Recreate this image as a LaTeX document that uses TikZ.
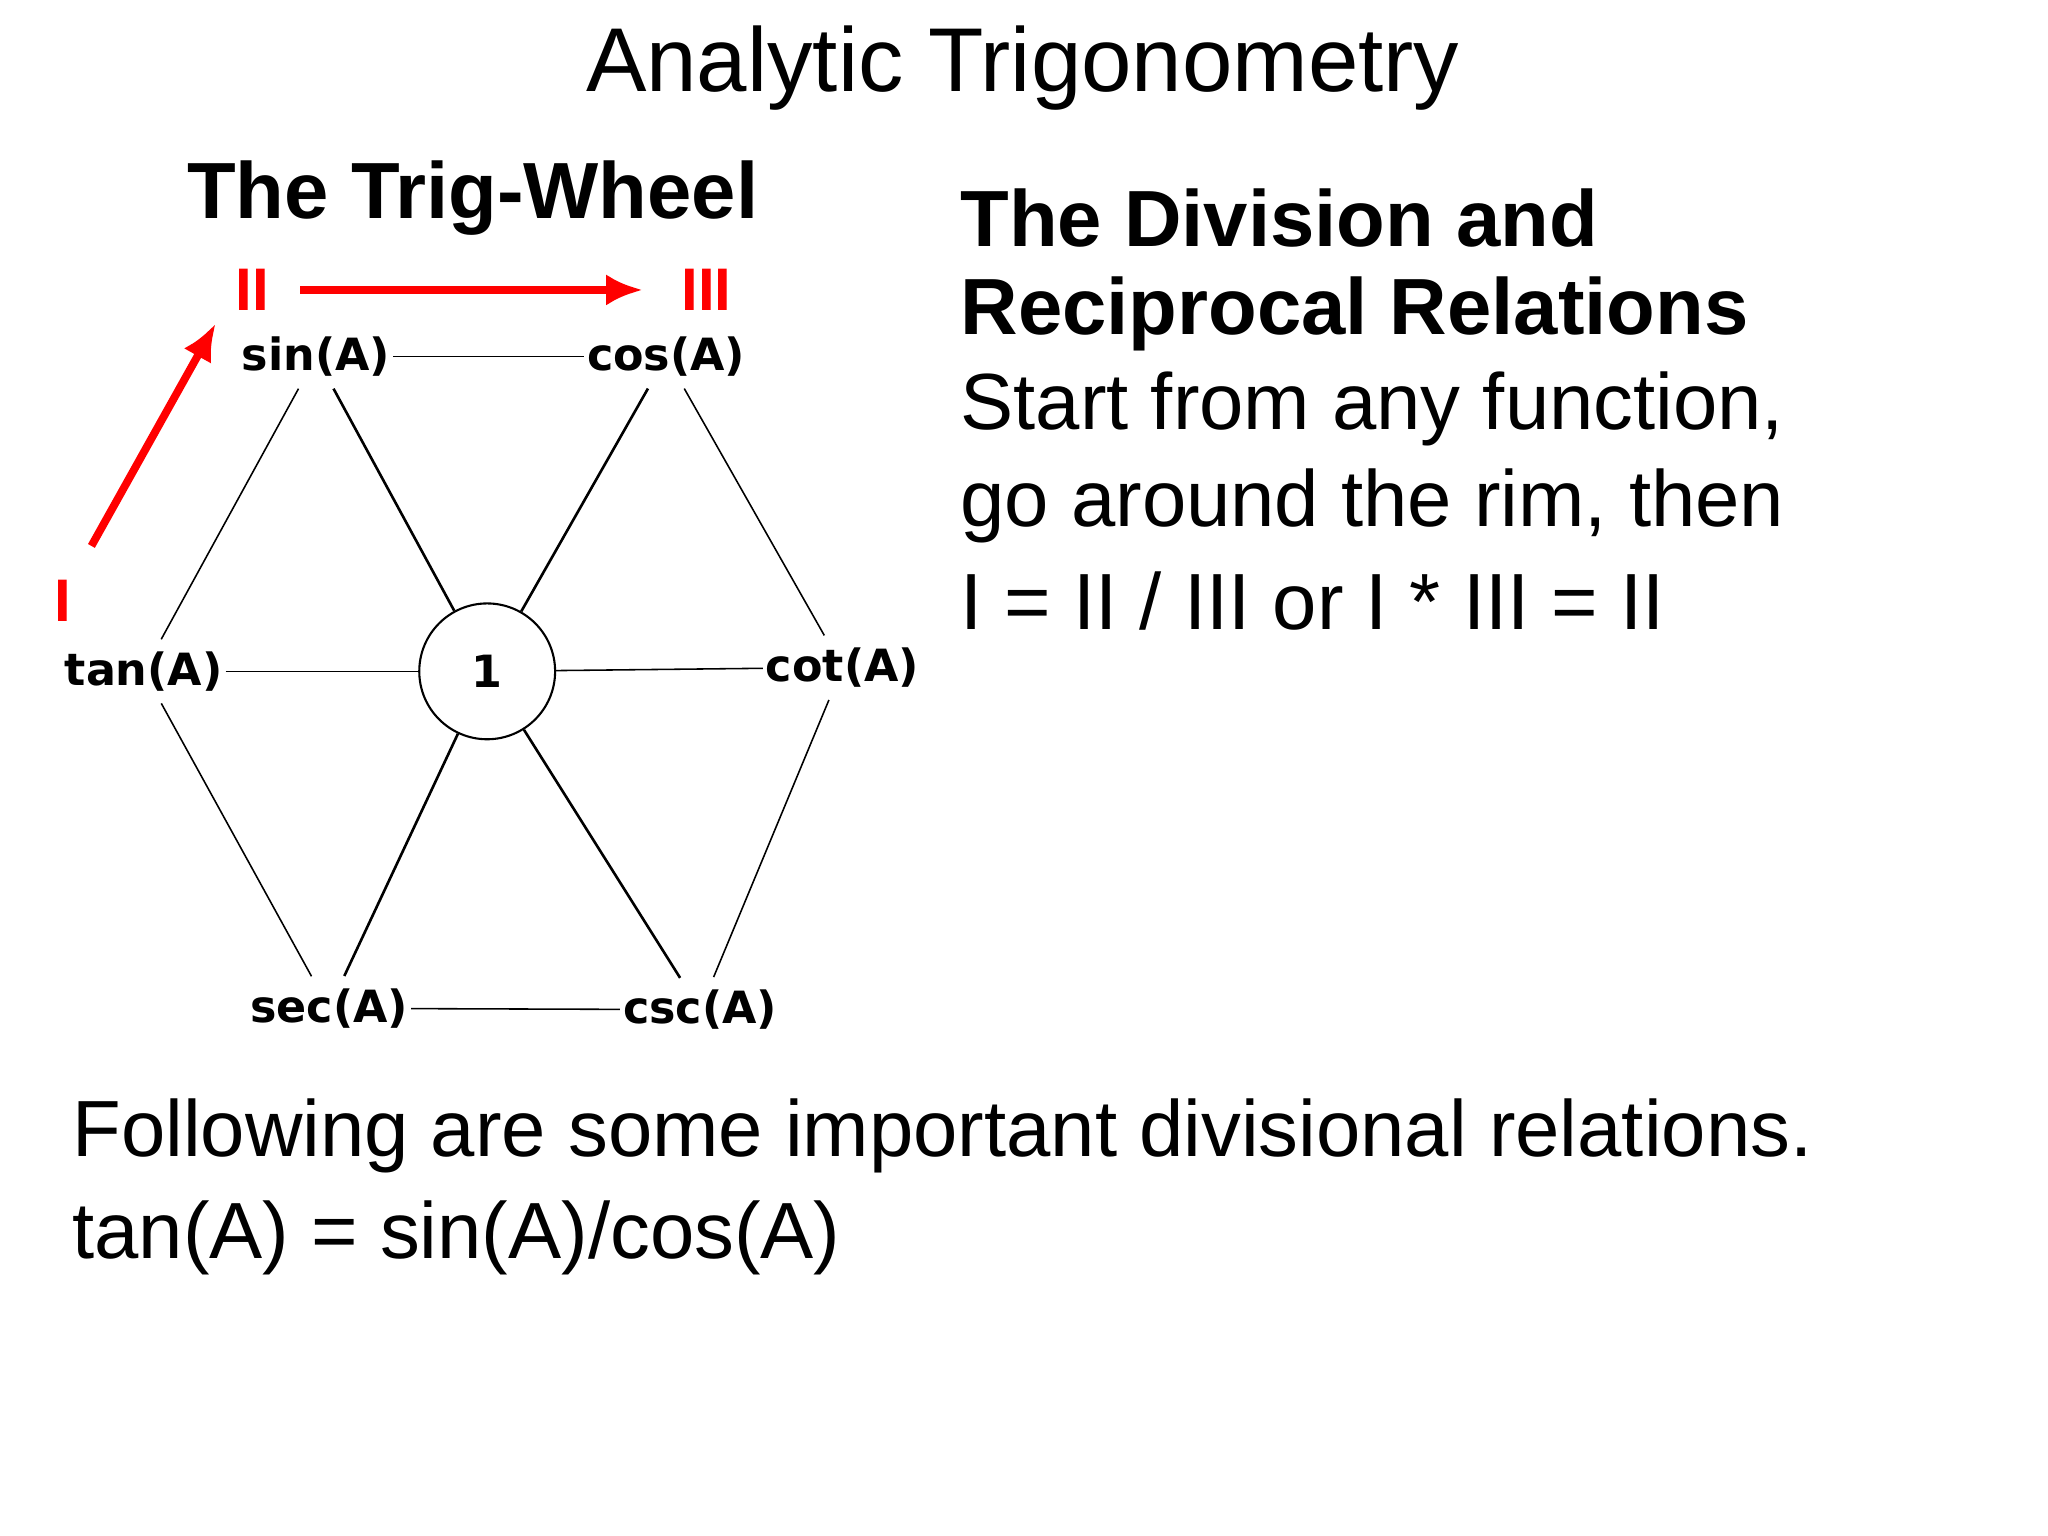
\documentclass[tikz,border=0pt]{standalone}
\usepackage{fontspec}
\setmainfont{Liberation Sans}
\newfontfamily\wheelfont{DejaVu Sans}
\usetikzlibrary{arrows.meta}
\begin{document}
\begin{tikzpicture}[x=0.5pt,y=-0.5pt,
  fn/.style={font=\wheelfont\bfseries\fontsize{17}{19}\selectfont, inner sep=1pt},
  rim/.style={line width=0.6pt},
  spoke/.style={line width=1pt},
  roman/.style={text=red, font=\bfseries\fontsize{23}{25}\selectfont, inner sep=0pt},
  redarrow/.style={red, line width=3pt, -{Latex[length=14pt,width=12pt]}},
  body/.style={anchor=west, inner sep=0pt, font=\fontsize{30.5}{34}\selectfont}]
\useasboundingbox (0,0) rectangle (1568,1176);
\fill[white] (0,0) rectangle (1568,1176);
\node[font=\fontsize{34.7}{38}\selectfont] (title) at (783,52) {Analytic Trigonometry};
\node[font=\bfseries\fontsize{30.5}{34}\selectfont] (wt) at (362,152) {The Trig-Wheel};
% wheel
\node[fn] (sin) at (242,273) {sin(A)};
\node[fn] (cos) at (510,273) {cos(A)};
\node[fn] (tan) at (110,514) {tan(A)};
\node[fn] (cot) at (645,511) {cot(A)};
\node[fn] (sec) at (252,772) {sec(A)};
\node[fn] (csc) at (536,773) {csc(A)};
\node[draw, circle, line width=0.8pt, minimum size=52pt, font=\wheelfont\bfseries\fontsize{17}{19}\selectfont] (one) at (373,514) {1};
\draw[rim] (sin) -- (cos);
\draw[rim] (tan) -- (one);
\draw[rim] (one) -- (cot);
\draw[rim] (sec) -- (csc);
\draw[rim,shorten <=4pt,shorten >=4pt] (sin) -- (tan);
\draw[rim,shorten <=4pt,shorten >=4pt] (cos) -- (cot);
\draw[rim,shorten <=4pt,shorten >=4pt] (tan) -- (sec);
\draw[rim,shorten <=4pt,shorten >=4pt] (cot) -- (csc);
\draw[spoke,shorten <=4pt] (sin) -- (one);
\draw[spoke,shorten <=4pt] (cos) -- (one);
\draw[spoke,shorten <=4pt] (sec) -- (one);
\draw[spoke,shorten <=4pt] (csc) -- (one);
% red
\node[roman] (r1) at (48,460) {I};
\node[roman] (r2) at (193,222) {II};
\node[roman] (r3) at (541,222) {III};
\coordinate (a1s) at (70,418);
\coordinate (a1e) at (165,248);
\coordinate (a2s) at (230,222);
\coordinate (a2e) at (492,222);
\draw[redarrow] (a1s) -- (a1e);
\draw[redarrow] (a2s) -- (a2e);
% right text
\node[body, font=\bfseries\fontsize{30.5}{34}\selectfont] (t1) at (735,167) {The Division and};
\node[body, font=\bfseries\fontsize{30.5}{34}\selectfont] (t2) at (735,240) {Reciprocal Relations};
\node[body] (t3) at (735,313) {Start from any function,};
\node[body] (t4) at (735,387) {go around the rim, then};
\node[body] (t5) at (735,460) {I = II / III or I * III = II};
\node[body] (b1) at (55,870) {Following are some important divisional relations.};
\node[body] (b2) at (55,948) {tan(A) = sin(A)/cos(A)};
\end{tikzpicture}
\end{document}
